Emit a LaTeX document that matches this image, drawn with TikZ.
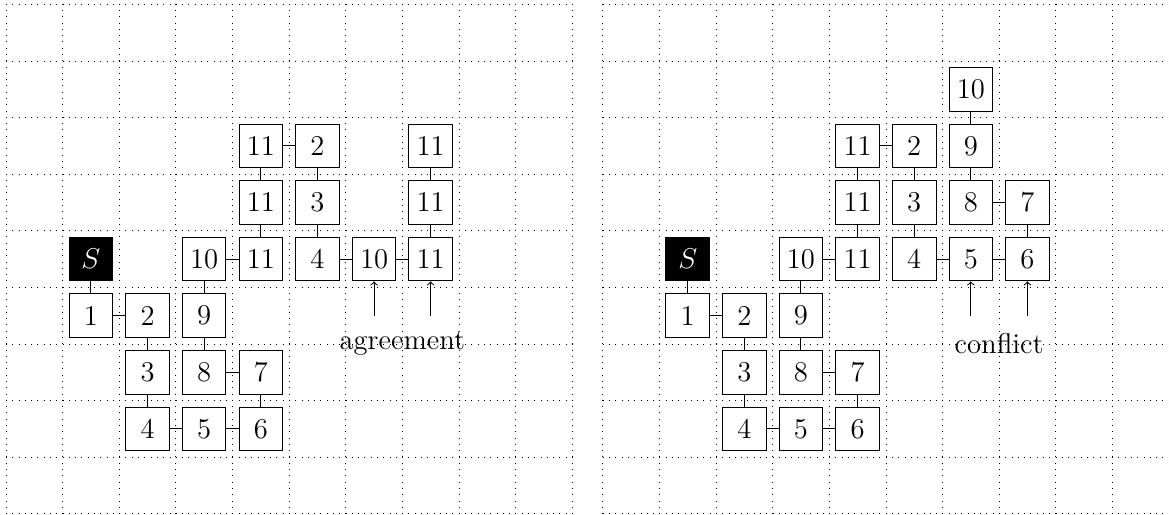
\documentclass[tikz,border=0pt]{standalone}
\usepackage{tikz}

\tikzset{
  gridline/.style={line width=0.4pt, dash pattern=on 0.4pt off 2.76pt},
  cell/.style={draw, line width=0.5pt, minimum size=0.77cm, inner sep=0pt, font=\Large},
  start/.style={cell, fill=black, text=white},
  link/.style={line width=0.5pt},
  pointer/.style={->, line width=0.5pt}
}

\begin{document}
\begin{tikzpicture}
   \useasboundingbox (-0.106,-0.018) rectangle (20.54,9.076);

   % left: agreement
   \draw[gridline] (0,0) grid (10,9);

   \node[start] (lS) at (1.5,4.5) {$S$};
   \node[cell] (l1) at (1.5,3.5) {1};
   \node[cell] (l2) at (2.5,3.5) {2};
   \node[cell] (l3) at (2.5,2.5) {3};
   \node[cell] (l4) at (2.5,1.5) {4};
   \node[cell] (l5) at (3.5,1.5) {5};
   \node[cell] (l6) at (4.5,1.5) {6};
   \node[cell] (l7) at (4.5,2.5) {7};
   \node[cell] (l8) at (3.5,2.5) {8};
   \node[cell] (l9) at (3.5,3.5) {9};
   \node[cell] (l10) at (3.5,4.5) {10};
   \node[cell] (l11) at (4.5,4.5) {11};
   \node[cell] (la) at (4.5,5.5) {11};
   \node[cell] (lb) at (4.5,6.5) {11};
   \node[cell] (lc) at (5.5,6.5) {2};
   \node[cell] (ld) at (5.5,5.5) {3};
   \node[cell] (le) at (5.5,4.5) {4};
   \node[cell] (lf) at (6.5,4.5) {10};
   \node[cell] (lg) at (7.5,4.5) {11};
   \node[cell] (lh) at (7.5,5.5) {11};
   \node[cell] (li) at (7.5,6.5) {11};

   \draw[link] (lS) -- (l1);
   \draw[link] (l1) -- (l2);
   \draw[link] (l2) -- (l3);
   \draw[link] (l3) -- (l4);
   \draw[link] (l4) -- (l5);
   \draw[link] (l5) -- (l6);
   \draw[link] (l6) -- (l7);
   \draw[link] (l7) -- (l8);
   \draw[link] (l8) -- (l9);
   \draw[link] (l9) -- (l10);
   \draw[link] (l10) -- (l11);
   \draw[link] (l11) -- (la);
   \draw[link] (la) -- (lb);
   \draw[link] (lb) -- (lc);
   \draw[link] (lc) -- (ld);
   \draw[link] (ld) -- (le);
   \draw[link] (le) -- (lf);
   \draw[link] (lf) -- (lg);
   \draw[link] (lg) -- (lh);
   \draw[link] (lh) -- (li);

   \coordinate (lp) at (6.5,3.5);
   \coordinate (lq) at (7.5,3.5);
   \draw[pointer] (lp) -- (lf);
   \draw[pointer] (lq) -- (lg);
   \node[font=\Large] (lt) at (7,3) {agreement};

   % right: conflict
   \begin{scope}[xshift=10.54cm]
   \draw[gridline] (0,0) grid (10,9);

   \node[start] (rS) at (1.5,4.5) {$S$};
   \node[cell] (r1) at (1.5,3.5) {1};
   \node[cell] (r2) at (2.5,3.5) {2};
   \node[cell] (r3) at (2.5,2.5) {3};
   \node[cell] (r4) at (2.5,1.5) {4};
   \node[cell] (r5) at (3.5,1.5) {5};
   \node[cell] (r6) at (4.5,1.5) {6};
   \node[cell] (r7) at (4.5,2.5) {7};
   \node[cell] (r8) at (3.5,2.5) {8};
   \node[cell] (r9) at (3.5,3.5) {9};
   \node[cell] (r10) at (3.5,4.5) {10};
   \node[cell] (r11) at (4.5,4.5) {11};
   \node[cell] (ra) at (4.5,5.5) {11};
   \node[cell] (rb) at (4.5,6.5) {11};
   \node[cell] (rc) at (5.5,6.5) {2};
   \node[cell] (rd) at (5.5,5.5) {3};
   \node[cell] (re) at (5.5,4.5) {4};
   \node[cell] (rf) at (6.5,4.5) {5};
   \node[cell] (rg) at (7.5,4.5) {6};
   \node[cell] (rh) at (7.5,5.5) {7};
   \node[cell] (ri) at (6.5,5.5) {8};
   \node[cell] (rj) at (6.5,6.5) {9};
   \node[cell] (rk) at (6.5,7.5) {10};

   \draw[link] (rS) -- (r1);
   \draw[link] (r1) -- (r2);
   \draw[link] (r2) -- (r3);
   \draw[link] (r3) -- (r4);
   \draw[link] (r4) -- (r5);
   \draw[link] (r5) -- (r6);
   \draw[link] (r6) -- (r7);
   \draw[link] (r7) -- (r8);
   \draw[link] (r8) -- (r9);
   \draw[link] (r9) -- (r10);
   \draw[link] (r10) -- (r11);
   \draw[link] (r11) -- (ra);
   \draw[link] (ra) -- (rb);
   \draw[link] (rb) -- (rc);
   \draw[link] (rc) -- (rd);
   \draw[link] (rd) -- (re);
   \draw[link] (re) -- (rf);
   \draw[link] (rf) -- (rg);
   \draw[link] (rg) -- (rh);
   \draw[link] (rh) -- (ri);
   \draw[link] (ri) -- (rj);
   \draw[link] (rj) -- (rk);

   \coordinate (rp) at (6.5,3.5);
   \coordinate (rq) at (7.5,3.5);
   \draw[pointer] (rp) -- (rf);
   \draw[pointer] (rq) -- (rg);
   \node[font=\Large] (rt) at (7,3) {conflict};
   \end{scope}
\end{tikzpicture}
\end{document}
